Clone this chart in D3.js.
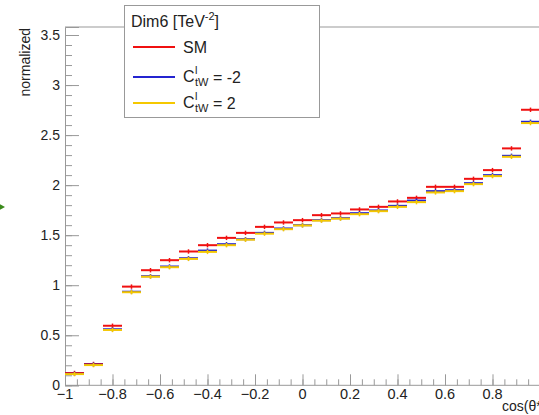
<!DOCTYPE html>
<html lang="en">
<head>
<meta charset="UTF-8">
<title>Dim6 cos theta</title>
<script src="https://d3js.org/d3.v7.min.js"></script>
<style>
    body { margin: 0; background: #fff; }
    svg { display: block; font-family: "Liberation Sans", Arial, sans-serif; }
</style>
</head>
<body>
<div id="chart"></div>
<script>

// bin low edges (25 bins, width 0.08)
var binLow = [-1, -0.92, -0.84, -0.76, -0.68, -0.6, -0.52, -0.44, -0.36, -0.28,
              -0.2, -0.12, -0.04, 0.04, 0.12, 0.2, 0.28, 0.36, 0.44, 0.52,
              0.6, 0.68, 0.76, 0.84, 0.92];
var binWidth = 0.08;

var smVals = [0.123, 0.213, 0.595, 0.986, 1.15, 1.25, 1.337, 1.40, 1.473, 1.523,
              1.583, 1.627, 1.65, 1.70, 1.717, 1.757, 1.783, 1.837, 1.873, 1.983,
              1.983, 2.063, 2.15, 2.367, 2.753];
var negVals = [0.115, 0.207, 0.56, 0.935, 1.09, 1.187, 1.27, 1.346, 1.41, 1.46,
               1.523, 1.567, 1.60, 1.65, 1.67, 1.72, 1.747, 1.793, 1.846, 1.94,
               1.95, 2.02, 2.10, 2.293, 2.633];
var posVals = [0.112, 0.202, 0.553, 0.93, 1.085, 1.18, 1.263, 1.333, 1.40, 1.455,
               1.515, 1.56, 1.597, 1.645, 1.665, 1.71, 1.74, 1.783, 1.83, 1.927,
               1.94, 2.01, 2.09, 2.283, 2.62];
var errVal = 0.022;

var xTicks = [-1, -0.8, -0.6, -0.4, -0.2, 0, 0.2, 0.4, 0.6, 0.8];
var yTicks = [0, 0.5, 1, 1.5, 2, 2.5, 3, 3.5];

var series = [
    { name: "SM", vals: smVals, color: "#f01010" },
    { name: "neg", vals: negVals, color: "#2424d0" },
    { name: "pos", vals: posVals, color: "#f5c800" }
];

var width = 539, height = 415;

var svg = d3.select("#chart").append("svg")
    .attr("width", width)
    .attr("height", height);

var x = d3.scaleLinear().domain([-1, 1]).range([65, 540]);
var y = d3.scaleLinear().domain([0, 3.58]).range([385.3, 27]);

var axisColor = "#999";

// frame
svg.append("line").attr("x1", x(-1)).attr("x2", x(1)).attr("y1", y(3.58)).attr("y2", y(3.58))
    .attr("stroke", axisColor);
svg.append("line").attr("x1", x(-1)).attr("x2", x(1)).attr("y1", y(0)).attr("y2", y(0))
    .attr("stroke", axisColor);

// y axis, ticks inside
var yAxis = svg.append("g")
    .attr("transform", "translate(" + x(-1) + ",0)")
    .call(d3.axisRight(y).tickValues(yTicks).tickSize(14).tickFormat(""));
yAxis.select(".domain").attr("stroke", axisColor);
yAxis.selectAll(".tick line").attr("stroke", axisColor);
svg.append("g")
    .attr("transform", "translate(" + x(-1) + ",0)")
    .call(d3.axisRight(y).tickValues(d3.range(0, 3.55, 0.1)).tickSize(7).tickFormat(""))
    .call(g => g.select(".domain").remove())
    .selectAll(".tick line").attr("stroke", axisColor);
svg.append("g").selectAll("text")
    .data(yTicks)
    .join("text")
    .attr("x", 60)
    .attr("y", d => y(d) + 5)
    .attr("text-anchor", "end")
    .attr("font-size", 14)
    .attr("fill", "#222")
    .text(d => d);

// x axis, ticks inside
var xAxis = svg.append("g")
    .attr("transform", "translate(0," + y(0) + ")")
    .call(d3.axisTop(x).tickValues(xTicks).tickSize(11).tickFormat(""));
xAxis.select(".domain").remove();
xAxis.selectAll(".tick line").attr("stroke", axisColor);
svg.append("g")
    .attr("transform", "translate(0," + y(0) + ")")
    .call(d3.axisTop(x).tickValues(d3.range(-1, 1.001, 0.05)).tickSize(6).tickFormat(""))
    .call(g => g.select(".domain").remove())
    .selectAll(".tick line").attr("stroke", axisColor);
svg.append("g").selectAll("text")
    .data(xTicks)
    .join("text")
    .attr("x", d => x(d))
    .attr("y", 399)
    .attr("text-anchor", "middle")
    .attr("font-size", 14.5)
    .attr("fill", "#222")
    .text(d => d3.format("")(d).replace("-", "\u2212"));

// axis titles
svg.append("text")
    .attr("transform", "translate(30,28) rotate(-90)")
    .attr("text-anchor", "end")
    .attr("font-size", 14)
    .attr("fill", "#222")
    .text("normalized");
svg.append("text")
    .attr("x", 502)
    .attr("y", 411)
    .attr("font-size", 14)
    .attr("fill", "#222")
    .text("cos(\u03b8*)");

// small green marker cut at the left edge
svg.append("path")
    .attr("d", "M-2,203 L5,207 L-2,211 Z")
    .attr("fill", "#3a8a1a");

// histograms
series.forEach(function (s) {
    var g = svg.append("g");
    g.selectAll("line.bar")
        .data(s.vals)
        .join("line")
        .attr("class", "bar")
        .attr("x1", (d, i) => x(binLow[i]))
        .attr("x2", (d, i) => x(binLow[i] + binWidth))
        .attr("y1", d => y(d))
        .attr("y2", d => y(d))
        .attr("stroke", s.color)
        .attr("stroke-width", 2);
    g.selectAll("line.err")
        .data(s.vals)
        .join("line")
        .attr("class", "err")
        .attr("x1", (d, i) => x(binLow[i] + binWidth / 2))
        .attr("x2", (d, i) => x(binLow[i] + binWidth / 2))
        .attr("y1", d => y(d - errVal))
        .attr("y2", d => y(d + errVal))
        .attr("stroke", s.color)
        .attr("stroke-width", 1.5);
});

// legend
var leg = svg.append("g");
leg.append("rect")
    .attr("x", 124.5).attr("y", 5.5)
    .attr("width", 195).attr("height", 112)
    .attr("fill", "#fff")
    .attr("stroke", "#999");
var title = leg.append("text")
    .attr("x", 131).attr("y", 27)
    .attr("font-size", 16)
    .attr("fill", "#222");
title.append("tspan").text("Dim6 [TeV");
title.append("tspan").attr("dy", -7).attr("font-size", 11).text("-2");
title.append("tspan").attr("dy", 7).text("]");

var legY = [47, 77, 103];
series.forEach(function (s, i) {
    leg.append("line")
        .attr("x1", 133).attr("x2", 175)
        .attr("y1", legY[i]).attr("y2", legY[i])
        .attr("stroke", s.color)
        .attr("stroke-width", 2);
    if (i === 0) {
        leg.append("text")
            .attr("x", 183).attr("y", legY[i] + 6)
            .attr("font-size", 16).attr("fill", "#222")
            .text("SM");
    } else {
        leg.append("text")
            .attr("x", 183).attr("y", legY[i] + 5)
            .attr("font-size", 16).attr("fill", "#222")
            .text("C");
        leg.append("text")
            .attr("x", 195).attr("y", legY[i] - 3)
            .attr("font-size", 11).attr("fill", "#222")
            .text("l");
        leg.append("text")
            .attr("x", 195).attr("y", legY[i] + 9)
            .attr("font-size", 11).attr("fill", "#222")
            .text("tW");
        leg.append("text")
            .attr("x", 213).attr("y", legY[i] + 6)
            .attr("font-size", 16).attr("fill", "#222")
            .text(i === 1 ? "= -2" : "= 2");
    }
});

</script>
</body>
</html>
